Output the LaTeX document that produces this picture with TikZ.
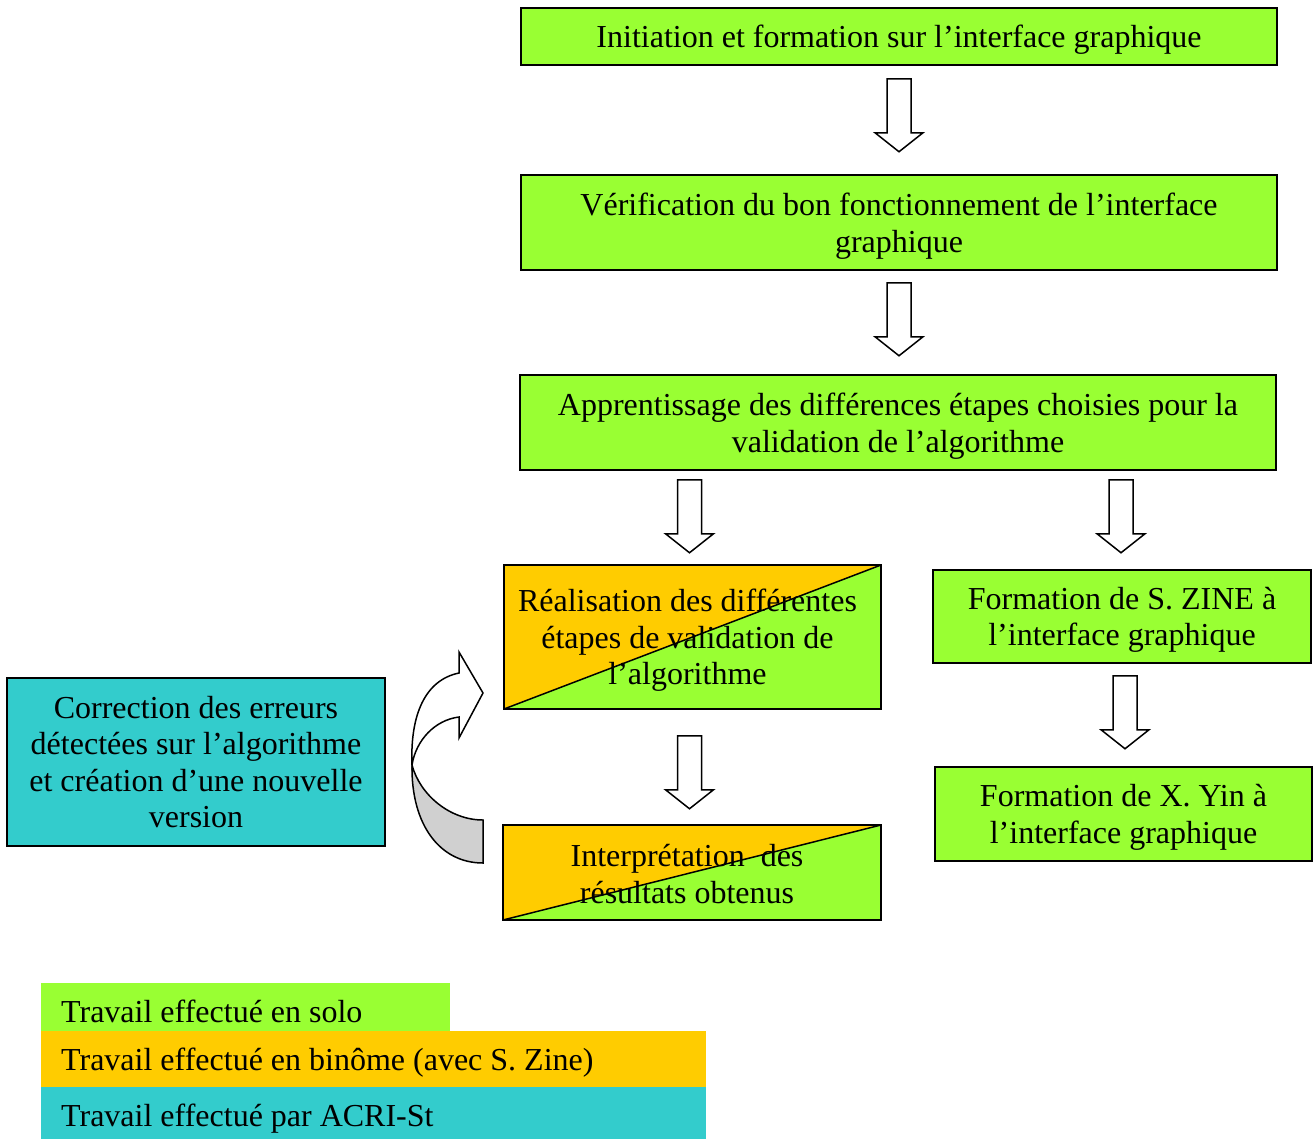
\documentclass[tikz,border=0pt]{standalone}
\usepackage{fontspec}
\setmainfont{Liberation Serif}
\usetikzlibrary{calc}
\definecolor{solo}{RGB}{153,255,51}
\definecolor{duo}{RGB}{255,204,0}
\definecolor{acri}{RGB}{51,204,204}
\definecolor{backside}{RGB}{208,208,208}
\newcommand\blockarrowat[1]{\draw[blockarrow] (#1) ++(-12,0) -- ++(0,54) -- ++(-12,0) -- ++(24,19) -- ++(24,-19) -- ++(-12,0) -- ++(0,-54) -- cycle;}
\tikzset{
 txt/.style={font=\fontsize{32}{36.5}\selectfont},
 box/.style={txt, draw=black, line width=1.5pt, rectangle, align=center, inner sep=0pt, text depth=0pt},
 solobox/.style={box, fill=solo},
 acribox/.style={box, fill=acri},
 splitbox/.style={box, fill=solo, path picture={
   \fill[duo] (path picture bounding box.south west) -- (path picture bounding box.north east) -- (path picture bounding box.north west) -- cycle;
   \draw[line width=1.5pt] (path picture bounding box.south west) -- (path picture bounding box.north east);}},
 splittext/.style={txt, align=center, inner sep=0pt, text depth=0pt},
 blockarrow/.style={draw=black, line width=1.5pt, fill=white, line join=miter},
 curvearrow/.style={draw=black, line width=1.5pt, line join=miter},
 legendbar/.style={rectangle, inner sep=0pt, anchor=north west},
 legendtext/.style={txt, anchor=base west, inner sep=0pt}
}
\begin{document}
\begin{tikzpicture}[x=1pt,y=-1pt]
\useasboundingbox (0,0) rectangle (1313,1140);
% boxes
\node[solobox, minimum width=756, minimum height=57] (b1) at (899,36.5) {Initiation et formation sur l’interface graphique};
\node[solobox, minimum width=756, minimum height=95] (b2) at (899,222.5) {Vérification du bon fonctionnement de l’interface\\graphique};
\node[solobox, minimum width=756, minimum height=95] (b3) at (898,422.5) {Apprentissage des différences étapes choisies pour la\\validation de l’algorithme};
\node[splitbox, minimum width=377, minimum height=144] (b4) at (692.5,637) {};
\node[splittext] (b4t) at ($(b4.center)+(-5,0)$) {Réalisation des différentes\\étapes de validation de\\l’algorithme};
\node[solobox, minimum width=378, minimum height=93] (b5) at (1122,616.5) {Formation de S. ZINE à\\l’interface graphique};
\node[solobox, minimum width=377, minimum height=94] (b6) at (1123.5,814) {Formation de X. Yin à\\l’interface graphique};
\node[splitbox, minimum width=378, minimum height=95] (b7) at (692,872.5) {};
\node[splittext] (b7t) at ($(b7.center)+(-5,1.5)$) {Interprétation~ des\\résultats obtenus};
\node[acribox, minimum width=378, minimum height=168] (c1) at (196,762) {Correction des erreurs\\détectées sur l’algorithme\\et création d’une nouvelle\\version};
% block arrows
\coordinate (a1) at ($(b1.south)+(0,13)$);
\coordinate (a2) at ($(b2.south)+(0,12)$);
\coordinate (a3) at ($(b4.north |- b3.south)+(-3,9)$);
\coordinate (a4) at ($(b5.north |- b3.south)+(-1,9)$);
\coordinate (a5) at ($(b4.south)+(-3,26)$);
\coordinate (a6) at ($(b5.south)+(3,12)$);
\blockarrowat{a1}
\blockarrowat{a2}
\blockarrowat{a3}
\blockarrowat{a4}
\blockarrowat{a5}
\blockarrowat{a6}
% curved arrow from the interpretation box back to the realisation box
\draw[curvearrow, fill=backside] (412,765) .. controls (411,825) and (440,863) .. (483,863) -- (483,820) .. controls (450,820) and (420,795) .. (412,765) -- cycle;
\draw[curvearrow, fill=white] (412,765) .. controls (410,715) and (425,680) .. (459,673) -- (459,652) -- (483,693) -- (459,738) -- (459,717) .. controls (435,720) and (416,740) .. (412,765) -- cycle;
% legend
\node[legendbar, fill=solo, minimum width=409, minimum height=48] (l1) at (41,983) {};
\node[legendbar, fill=duo, minimum width=665, minimum height=56] (l2) at (41,1031) {};
\node[legendbar, fill=acri, minimum width=665, minimum height=52] (l3) at (41,1087) {};
\node[legendtext] (t1) at (61,1022) {Travail effectué en solo};
\node[legendtext] (t2) at (61,1070) {Travail effectué en binôme (avec S. Zine)};
\node[legendtext] (t3) at (61,1126) {Travail effectué par ACRI-St};
\end{tikzpicture}
\end{document}
